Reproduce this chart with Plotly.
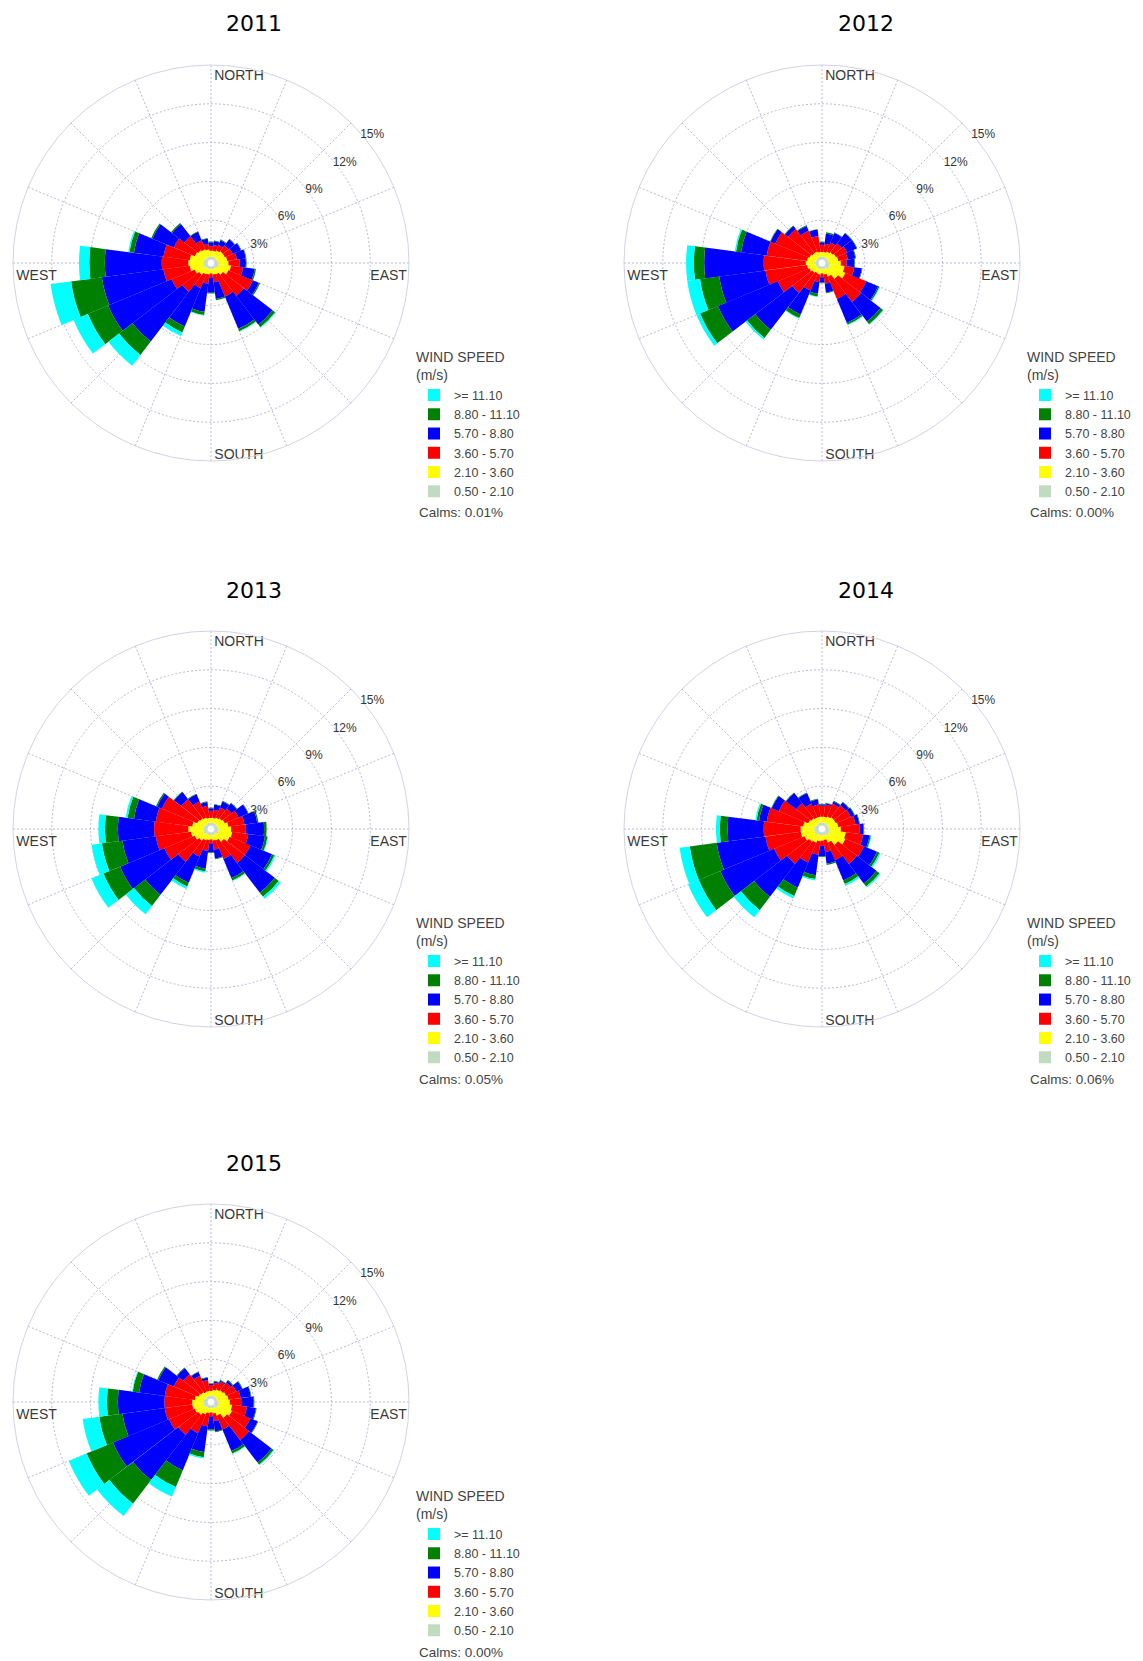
import plotly.graph_objects as go

# ---------------- data ----------------
directions = [0, 15, 30, 45, 60, 75, 90, 105, 120, 135, 150, 165,
              180, 195, 210, 225, 240, 255, 270, 285, 300, 315, 330, 345]

speed_classes = ["0.50 - 2.10", "2.10 - 3.60", "3.60 - 5.70",
                 "5.70 - 8.80", "8.80 - 11.10", ">= 11.10"]
class_colors = ["#c0dcc0", "#ffff00", "#ff0000", "#0000ff", "#008000", "#00ffff"]

years = ["2011", "2012", "2013", "2014", "2015"]
calms = ["Calms: 0.01%", "Calms: 0.00%", "Calms: 0.05%", "Calms: 0.06%", "Calms: 0.00%"]

radial_ticks = [3, 6, 9, 12, 15]
radial_ticktext = ["3%", "6%", "9%", "12%", "15%"]
compass_text = ["NORTH", "EAST", "SOUTH", "WEST"]
compass_theta = [1, 92, 179, 268]
compass_r = [14.1, 14.85, 14.6, 14.75]

# frequency (%) per direction for each wind-speed class
pct2011_050_210 = [0.2,0.2,0.2,0.2,0.2,0.2,0.3,0.3,0.3,0.2,0.2,0.2,0.15,0.2,0.2,0.2,0.3,0.3,0.3,0.3,0.2,0.2,0.2,0.2]
pct2011_210_360 = [0.45,0.45,0.55,0.65,0.65,0.75,0.75,0.95,0.85,0.65,0.45,0.4,0.35,0.4,0.45,0.65,0.75,1.05,1.15,1.05,0.85,0.75,0.65,0.55]
pct2011_360_570 = [0.35,0.45,0.45,0.55,0.65,0.75,0.85,0.95,2.05,2.05,1.85,0.6,0.3,0.7,1.15,1.65,1.95,2.05,2.05,2.05,1.75,1.35,0.75,0.45]
pct2011_570_880 = [0.3,0.3,0.4,0.6,0.7,0.7,0.5,0.9,0.5,2.8,2.7,1.3,1.2,2.2,3.2,4.85,5.3,4.8,4.4,2.3,1.8,1.2,0.7,0.4]
pct2011_880_1110 = [0.05,0.05,0.05,0.05,0.05,0.05,0.05,0.1,0.1,0.25,0.2,0.1,0.05,0.25,0.5,1.3,1.7,2.4,1.2,0.35,0.1,0.1,0.05,0.05]
pct2011_ge1110 = [0,0,0,0,0,0,0,0,0,0.05,0.05,0,0,0.05,0.3,1.05,1.2,1.6,0.8,0.1,0,0,0,0]

pct2012_050_210 = [0.2,0.2,0.2,0.2,0.2,0.2,0.3,0.3,0.3,0.3,0.2,0.2,0.15,0.2,0.2,0.2,0.2,0.2,0.3,0.2,0.2,0.2,0.2,0.2]
pct2012_210_360 = [0.35,0.35,0.45,0.55,0.65,0.75,0.85,1.15,1.35,0.95,0.65,0.4,0.35,0.4,0.35,0.45,0.55,0.65,0.65,0.65,0.55,0.45,0.45,0.35]
pct2012_360_570 = [0.55,0.65,0.75,0.85,0.95,0.75,0.45,0.75,1.75,2.25,1.85,0.7,0.3,0.6,1.45,1.95,2.65,3.25,3.25,3.15,2.85,2.35,1.75,1.25]
pct2012_570_880 = [0.2,0.8,0.8,1.0,0.8,0.6,0.6,0.6,1.0,1.9,2.0,0.7,0.4,0.9,2.0,3.6,5.0,3.6,4.6,2.0,0.4,0.3,0.4,0.5]
pct2012_880_1110 = [0.05,0.1,0.05,0.05,0.05,0.05,0.05,0.05,0.1,0.25,0.15,0.05,0.05,0.2,0.3,0.8,1.5,1.5,0.8,0.4,0.05,0.05,0.05,0.05]
pct2012_ge1110 = [0,0,0,0,0,0,0,0,0.05,0.05,0.05,0,0,0.05,0.05,0.15,0.3,1.0,0.6,0.1,0,0,0,0]

pct2013_050_210 = [0.2,0.2,0.2,0.2,0.2,0.2,0.3,0.3,0.3,0.2,0.2,0.2,0.15,0.2,0.2,0.2,0.3,0.3,0.3,0.3,0.2,0.2,0.2,0.2]
pct2013_210_360 = [0.35,0.35,0.45,0.55,0.65,0.85,0.95,1.05,0.95,0.75,0.45,0.4,0.35,0.35,0.45,0.65,0.75,0.95,1.15,0.85,0.65,0.55,0.45,0.35]
pct2013_360_570 = [0.55,0.65,0.85,0.95,1.15,1.25,1.15,1.25,1.75,2.05,1.55,0.7,0.3,0.85,1.35,2.05,2.55,2.75,2.65,2.85,2.95,1.85,1.35,0.95]
pct2013_570_880 = [0.2,0.4,0.5,0.5,0.8,1.0,1.4,1.3,1.8,2.9,1.6,0.7,0.7,1.4,2.2,3.2,3.7,2.6,2.8,1.7,0.4,0.7,0.6,0.3]
pct2013_880_1110 = [0.05,0.05,0.05,0.05,0.05,0.1,0.2,0.2,0.2,0.4,0.2,0.05,0.05,0.2,0.3,1.1,1.4,1.6,1.0,0.5,0.1,0.05,0.05,0.05]
pct2013_ge1110 = [0,0,0,0,0,0,0,0.05,0.1,0.2,0.05,0,0,0.1,0.2,0.8,1.0,0.8,0.5,0.15,0,0,0,0]

pct2014_050_210 = [0.2,0.2,0.2,0.2,0.2,0.2,0.3,0.3,0.3,0.3,0.2,0.2,0.15,0.2,0.2,0.3,0.3,0.3,0.3,0.3,0.2,0.2,0.2,0.2]
pct2014_210_360 = [0.45,0.45,0.55,0.65,0.65,0.75,0.85,1.25,1.35,0.95,0.65,0.35,0.45,0.45,0.65,0.65,0.85,1.05,1.05,0.85,0.65,0.55,0.45,0.45]
pct2014_360_570 = [0.85,0.95,1.05,1.15,1.25,1.35,1.45,1.35,1.55,1.85,1.45,0.95,0.4,1.05,1.65,2.15,2.55,2.75,2.85,2.85,2.45,1.45,1.15,0.95]
pct2014_570_880 = [0.1,0.1,0.2,0.3,0.3,0.3,0.3,0.5,1.1,1.9,1.7,0.9,0.8,1.6,2.1,3.2,4.5,3.8,2.8,0.6,0.6,1.0,0.9,0.4]
pct2014_880_1110 = [0.05,0.05,0.05,0.05,0.05,0.05,0.05,0.1,0.2,0.3,0.3,0.1,0.05,0.3,0.7,1.3,1.8,2.1,0.6,0.2,0.05,0.05,0.05,0.05]
pct2014_ge1110 = [0,0,0,0,0,0,0,0.05,0.1,0.1,0.15,0,0,0.1,0.2,0.7,0.9,0.8,0.3,0.1,0,0,0,0]

pct2015_050_210 = [0.2,0.2,0.2,0.2,0.2,0.2,0.3,0.3,0.3,0.3,0.2,0.2,0.15,0.2,0.2,0.2,0.3,0.3,0.3,0.3,0.2,0.2,0.2,0.2]
pct2015_210_360 = [0.35,0.45,0.55,0.65,0.75,0.85,0.85,1.05,1.15,0.95,0.65,0.4,0.35,0.35,0.55,0.75,0.75,0.85,0.85,0.65,0.55,0.45,0.35,0.35]
pct2015_360_570 = [0.45,0.55,0.65,0.75,0.85,0.95,0.95,1.15,1.55,2.15,1.15,0.6,0.3,1.05,1.55,1.95,2.15,2.15,2.15,2.35,2.05,1.75,1.35,0.85]
pct2015_570_880 = [0.1,0.1,0.1,0.2,0.5,0.8,0.9,0.7,0.6,2.2,1.8,0.8,1.0,2.0,3.1,4.4,4.7,3.3,3.6,2.0,1.3,0.6,0.3,0.2]
pct2015_880_1110 = [0.05,0.05,0.05,0.05,0.05,0.05,0.05,0.05,0.05,0.2,0.2,0.05,0.1,0.4,1.4,2.3,2.2,1.8,0.85,0.5,0.1,0.05,0.05,0.05]
pct2015_ge1110 = [0,0,0,0,0,0,0,0,0,0.05,0.05,0,0,0.1,0.8,1.2,1.5,1.3,0.65,0.05,0,0,0,0]

year_series = [
    [pct2011_050_210, pct2011_210_360, pct2011_360_570, pct2011_570_880, pct2011_880_1110, pct2011_ge1110],
    [pct2012_050_210, pct2012_210_360, pct2012_360_570, pct2012_570_880, pct2012_880_1110, pct2012_ge1110],
    [pct2013_050_210, pct2013_210_360, pct2013_360_570, pct2013_570_880, pct2013_880_1110, pct2013_ge1110],
    [pct2014_050_210, pct2014_210_360, pct2014_360_570, pct2014_570_880, pct2014_880_1110, pct2014_ge1110],
    [pct2015_050_210, pct2015_210_360, pct2015_360_570, pct2015_570_880, pct2015_880_1110, pct2015_ge1110],
]

# ---------------- layout geometry (pixels) ----------------
W, H = 1143, 1661
R = 198
centers = [(211, 263), (822, 263), (211, 829), (822, 829), (211, 1402)]
title_pos = [(254, 23), (866, 23), (254, 590), (866, 590), (254, 1163)]

FONT = "Liberation Sans, Arial, sans-serif"
GRID = "#b8b8d6"

fig = go.Figure()
layout = dict(
    width=W, height=H, margin=dict(l=0, r=0, t=0, b=0),
    paper_bgcolor="white", plot_bgcolor="white",
    font=dict(family=FONT, size=12, color="#333333"),
    annotations=[],
)

for i, (year, series) in enumerate(zip(years, year_series)):
    pid = "polar" if i == 0 else f"polar{i+1}"
    lid = "legend" if i == 0 else f"legend{i+1}"
    for k in range(6):
        fig.add_trace(go.Barpolar(
            r=series[k], theta=directions, width=[15] * len(directions),
            name=speed_classes[k], marker=dict(color=class_colors[k], line=dict(width=0)),
            subplot=pid, legend=lid, hoverinfo="skip",
        ))
    fig.add_trace(go.Scatterpolar(
        r=compass_r, theta=compass_theta, text=compass_text, mode="text",
        textposition=["middle right", "bottom left", "middle right", "bottom right"],
        textfont=dict(family=FONT, size=14, color="#3a3a3a"),
        subplot=pid, showlegend=False, hoverinfo="skip", cliponaxis=False,
    ))
    cx, cy = centers[i]
    layout[pid] = dict(
        domain=dict(x=[(cx - R) / W, (cx + R) / W], y=[1 - (cy + R) / H, 1 - (cy - R) / H]),
        bgcolor="white", hole=0.02, barmode="stack",
        radialaxis=dict(range=[0, 15], tickvals=radial_ticks, ticktext=radial_ticktext,
                        angle=45, showline=False, ticks="outside", ticklen=4,
                        tickcolor="rgba(0,0,0,0)", gridcolor=GRID, griddash="2px,2px",
                        tickfont=dict(family=FONT, size=12, color="#333333"), tickangle=45),
        angularaxis=dict(rotation=90, direction="clockwise",
                         tickvals=[0, 22.5, 45, 67.5, 90, 112.5, 135, 157.5, 180,
                                   202.5, 225, 247.5, 270, 292.5, 315, 337.5],
                         showticklabels=False, ticks="", showline=True,
                         linecolor="#d2d2e6", linewidth=1,
                         gridcolor=GRID, griddash="2px,2px"),
    )
    layout[lid] = dict(
        x=(cx + 203) / W, y=1 - (cy + 81) / H, xanchor="left", yanchor="top",
        traceorder="reversed", bgcolor="rgba(0,0,0,0)",
        font=dict(family=FONT, size=12.5, color="#444444"),
        title=dict(text="WIND SPEED<br>(m/s)", font=dict(family=FONT, size=14, color="#444444")),
        itemclick=False, itemdoubleclick=False,
    )
    tx, ty = title_pos[i]
    layout["annotations"].append(dict(
        text=year, x=tx / W, y=1 - ty / H, xref="paper", yref="paper",
        xanchor="center", yanchor="middle", showarrow=False,
        font=dict(family="DejaVu Sans, Verdana, sans-serif", size=22, color="black"),
    ))
    layout["annotations"].append(dict(
        text=calms[i], x=(cx + 206) / W, y=1 - (cy + 250) / H, xref="paper", yref="paper",
        xanchor="left", yanchor="middle", showarrow=False,
        font=dict(family=FONT, size=13.5, color="#444444"),
    ))

fig.update_layout(**layout)
fig.write_html("out.html", config={"displayModeBar": False},
               post_script="document.body.style.margin='0';document.body.style.overflow='hidden';")
